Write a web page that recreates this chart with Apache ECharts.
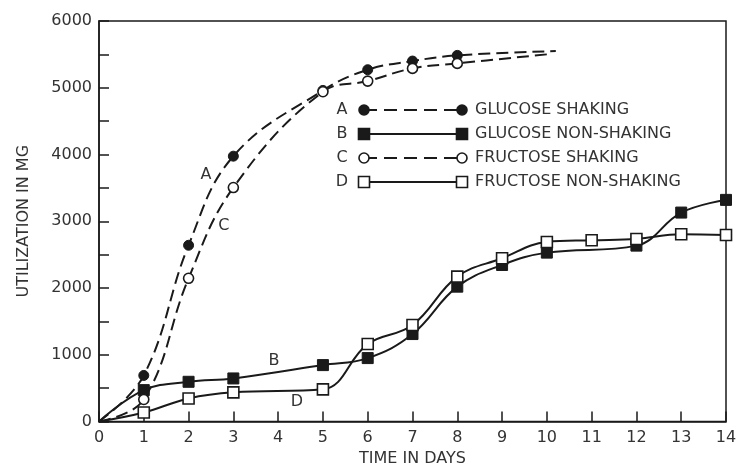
<!DOCTYPE html>
<html><head><meta charset="utf-8">
<script src="https://cdn.jsdelivr.net/npm/echarts@6/dist/echarts.min.js"></script>
<style>html,body{margin:0;padding:0;background:#fff}#c{width:749px;height:467px}</style>
</head><body><div id="c"></div>
<script>
// ---- data ----
const seriesNames = ['GLUCOSE SHAKING', 'GLUCOSE NON-SHAKING', 'FRUCTOSE SHAKING', 'FRUCTOSE NON-SHAKING'];
const seriesLetters = ['A', 'B', 'C', 'D'];
const xTickLabels = ['0','1','2','3','4','5','6','7','8','9','10','11','12','13','14'];
const yTickLabels = ['0','1000','2000','3000','4000','5000','6000'];

const glucoseShakingX = [0, 1, 2, 3, 5, 6, 7, 8, 10.2];
const glucoseShakingY = [0, 690, 2640, 3975, 4960, 5270, 5400, 5485, 5550];
const glucoseNonShakingX = [0, 1, 2, 3, 5, 6, 7, 8, 9, 10, 12, 13, 14];
const glucoseNonShakingY = [0, 470, 595, 645, 845, 950, 1310, 2020, 2345, 2530, 2635, 3130, 3320];
const fructoseShakingX = [0, 1, 2, 3, 5, 6, 7, 8, 10];
const fructoseShakingY = [0, 330, 2145, 3505, 4940, 5100, 5290, 5365, 5500];
const fructoseNonShakingX = [0, 1, 2, 3, 5, 6, 7, 8, 9, 10, 11, 12, 13, 14];
const fructoseNonShakingY = [0, 135, 345, 437, 482, 1160, 1445, 2170, 2445, 2690, 2715, 2735, 2805, 2795];

// curve annotation letters (data coordinates)
const letterCoords = [[2.39, 3690], [3.91, 910], [2.79, 2927], [4.42, 296]];

// ---- styling ----
const INK = '#1a1a1a';
const TXT = '#333';
const FONT = 'DejaVu Sans';
const DASH = [12, 6];

// points with no marker: the origin and dashed-curve ends without a plotted observation
function build(xs, ys, openEnd) {
  return xs.map((x, i) => {
    const noMark = (i === 0) || (openEnd && i === xs.length - 1);
    return noMark ? { value: [x, ys[i]], symbol: 'none' } : [x, ys[i]];
  });
}

const seriesDefs = [
  { x: glucoseShakingX, y: glucoseShakingY, openEnd: true, symbol: 'circle', size: 10, filled: true, dashed: true },
  { x: glucoseNonShakingX, y: glucoseNonShakingY, openEnd: false, symbol: 'rect', size: 11, filled: true, dashed: false },
  { x: fructoseShakingX, y: fructoseShakingY, openEnd: true, symbol: 'circle', size: 10, filled: false, dashed: true },
  { x: fructoseNonShakingX, y: fructoseNonShakingY, openEnd: false, symbol: 'rect', size: 11, filled: false, dashed: false }
];

const series = seriesDefs.map((d, i) => ({
  name: seriesNames[i],
  type: 'line',
  data: build(d.x, d.y, d.openEnd),
  smooth: 0.4,
  symbol: d.symbol,
  symbolSize: d.size,
  showSymbol: true,
  z: d.filled ? 3 : 4,
  lineStyle: { color: INK, width: 2, type: d.dashed ? DASH : 'solid' },
  itemStyle: d.filled
    ? { color: INK, borderColor: INK, borderWidth: 1 }
    : { color: '#fff', borderColor: INK, borderWidth: 1.6 },
  emphasis: { disabled: true },
  markPoint: {
    symbol: 'rect',
    symbolSize: 1,
    itemStyle: { color: 'rgba(0,0,0,0)' },
    label: { show: true, position: 'inside', formatter: seriesLetters[i], color: TXT, fontFamily: FONT, fontSize: 16 },
    data: [{ coord: letterCoords[i] }]
  }
}));

// ---- legend drawn as graphics (marker-line-marker style of the original) ----
const legendRows = [110, 134, 158, 182];
const legendGraphics = [];
seriesDefs.forEach((d, i) => {
  const cy = legendRows[i];
  const x1 = 364, x2 = 462;
  legendGraphics.push({ type: 'text', x: 342, y: cy, style: { text: seriesLetters[i], font: '16px ' + FONT, fill: TXT, align: 'center', verticalAlign: 'middle' } });
  legendGraphics.push({ type: 'line', shape: { x1: x1, y1: cy, x2: x2, y2: cy }, style: { stroke: INK, lineWidth: 2, lineDash: d.dashed ? [13, 7] : null } });
  [x1, x2].forEach(cx => {
    const st = { fill: d.filled ? INK : '#fff', stroke: INK, lineWidth: 1.6 };
    if (d.symbol === 'circle') legendGraphics.push({ type: 'circle', z: 10, shape: { cx: cx, cy: cy, r: 5 }, style: st });
    else legendGraphics.push({ type: 'rect', z: 10, shape: { x: cx - 5.5, y: cy - 5.5, width: 11, height: 11 }, style: st });
  });
  legendGraphics.push({ type: 'text', x: 475, y: cy, style: { text: seriesNames[i], font: '16px ' + FONT, fill: TXT, align: 'left', verticalAlign: 'middle' } });
});

const chart = echarts.init(document.getElementById('c'), null, { renderer: 'canvas' });
chart.setOption({
  animation: false,
  backgroundColor: '#fff',
  grid: { left: 99, right: 23, top: 21, bottom: 45.5, containLabel: false, outerBoundsMode: 'none',
    show: true, borderColor: INK, borderWidth: 1.5, backgroundColor: 'transparent' },
  xAxis: {
    type: 'value', min: 0, max: 14, interval: 1,
    name: 'TIME IN DAYS', nameLocation: 'middle', nameGap: 29,
    nameTextStyle: { fontFamily: FONT, fontSize: 16, color: TXT },
    axisLine: { show: true, lineStyle: { color: INK, width: 1.5 } },
    axisTick: { show: true, inside: true, length: 10, lineStyle: { color: INK, width: 1.5 } },
    axisLabel: { margin: 8, fontFamily: FONT, fontSize: 16, color: TXT, formatter: v => xTickLabels[Math.round(v)] },
    splitLine: { show: false }
  },
  yAxis: {
    type: 'value', min: 0, max: 6000, interval: 500,
    name: 'UTILIZATION IN MG', nameLocation: 'middle', nameGap: 67,
    nameTextStyle: { fontFamily: FONT, fontSize: 16, color: TXT },
    axisLine: { show: true, lineStyle: { color: INK, width: 1.5 } },
    axisTick: { show: true, inside: true, length: 10, lineStyle: { color: INK, width: 1.5 } },
    axisLabel: { margin: 7, fontFamily: FONT, fontSize: 16, color: TXT,
      formatter: v => (v % 1000 === 0 ? yTickLabels[v / 1000] : '') },
    splitLine: { show: false }
  },
  series: series,
  graphic: legendGraphics
});
</script>
</body></html>
